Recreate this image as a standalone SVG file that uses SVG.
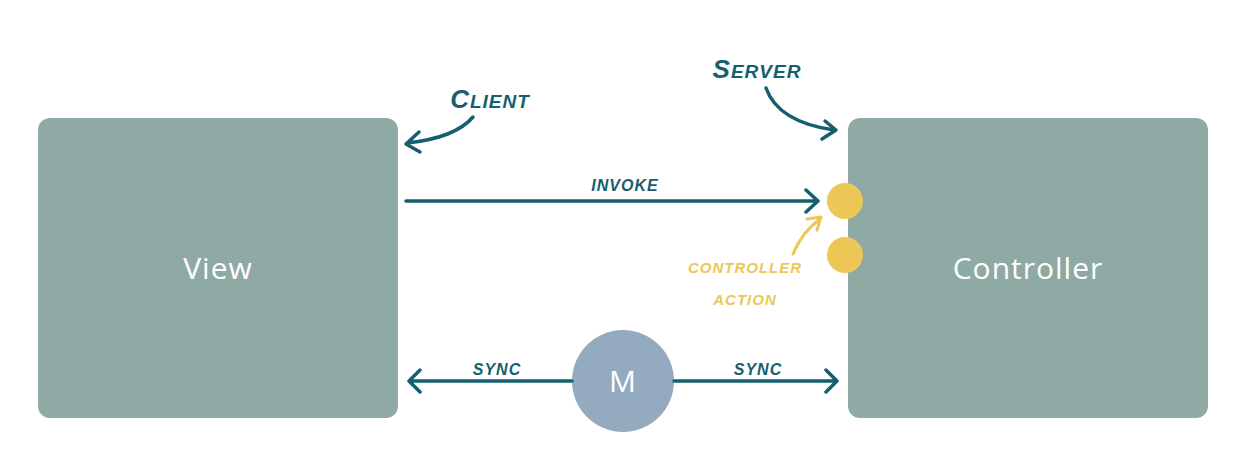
<svg xmlns="http://www.w3.org/2000/svg" width="1248" height="458" viewBox="0 0 1248 458">
<style>
.box{fill:#8FA9A5}
.big{font-family:"Open Sans","Noto Sans",sans-serif;font-size:30px;fill:#ffffff;text-anchor:middle;letter-spacing:1px}
.hand{font-family:"Liberation Sans",sans-serif;font-weight:bold;font-style:italic;fill:#155F6E;text-anchor:middle}
.yl{font-family:"Liberation Sans",sans-serif;font-weight:bold;font-style:italic;fill:#EDC755;text-anchor:middle;font-size:15px;letter-spacing:1px}
.ln{fill:none;stroke:#155F6E;stroke-width:3.5;stroke-linecap:round;stroke-linejoin:round}
.yln{fill:none;stroke:#EDC755;stroke-width:3;stroke-linecap:round;stroke-linejoin:round}
</style>
<rect width="1248" height="458" fill="#ffffff"/>
<g id="view"><rect class="box" x="38" y="118" width="360" height="300" rx="12"/><text class="big" x="218" y="279">View</text></g>
<g id="controller"><rect class="box" x="848" y="118" width="360" height="300" rx="12"/><text class="big" x="1028" y="279">Controller</text></g>
<g id="action1"><circle cx="845" cy="201" r="18" fill="#EDC755"/></g>
<g id="action2"><circle cx="845" cy="255" r="18" fill="#EDC755"/></g>
<g id="model"><circle cx="623" cy="381" r="51" fill="#94AABF"/><text class="big" x="623" y="392" font-size="28" letter-spacing="0">M</text></g>
<g id="client-label"><text class="hand" x="490" y="108" font-size="26" letter-spacing="1">C<tspan font-size="19">LIENT</tspan></text></g>
<g id="server-label"><text class="hand" x="757" y="78" font-size="26" letter-spacing="1">S<tspan font-size="19">ERVER</tspan></text></g>
<g id="controller-action-label"><text class="yl" x="745" y="273">CONTROLLER</text><text class="yl" x="745" y="305">ACTION</text></g>
<g id="connectors">
<path class="ln" d="M406 201 H818 M806 190 L818 201 L806 212"/>
<text class="hand" x="625" y="191" font-size="16" letter-spacing="1">INVOKE</text>
<path class="ln" d="M572 381 H409 M420 370 L409 381 L420 392"/>
<text class="hand" x="497" y="375" font-size="16" letter-spacing="1">SYNC</text>
<path class="ln" d="M674 381 H837 M826 370 L837 381 L826 392"/>
<text class="hand" x="758" y="375" font-size="16" letter-spacing="1">SYNC</text>
<path class="ln" d="M473 117 Q455 138 407 143 M419 132 L406 144 L420 152"/>
<path class="ln" d="M766 88 Q778 122 834 130 M825 121 L836 130 L822 139"/>
<path class="yln" d="M793 254 Q802 232 820 219 M807 219 L821 217 L817 230"/>
</g>
</svg>
